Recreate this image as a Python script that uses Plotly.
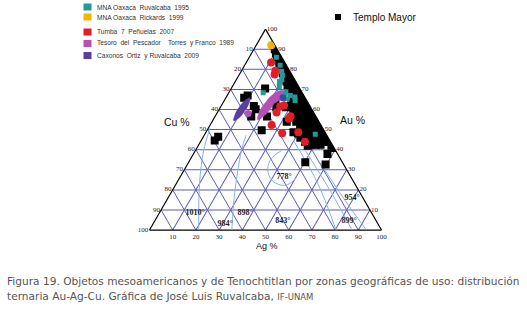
import plotly.graph_objects as go

# ---------------- data (Au %, Cu %; Ag % is the remainder, ternary sum = 100) ----------------
# Templo Mayor (black squares)
tm_au = [92,
         90, 90, 88, 88, 86, 86, 84, 84,
         82, 82, 82, 80, 80, 80, 78, 78, 78, 76, 76, 76,
         74, 74, 74, 72, 72, 72, 70, 70, 70, 68, 68, 68, 66, 66, 66,
         64, 64, 64, 64,
         62, 62, 62, 62, 62, 60, 60, 60, 60, 60, 58, 58, 58, 58, 58,
         56, 56, 56, 56, 56, 54, 54, 54, 54, 54,
         52, 52, 52, 52, 52, 52, 50, 50, 50, 50, 50, 50,
         48, 48, 48, 48, 48, 48, 48, 46, 46, 46, 46, 46, 46, 46,
         44, 44, 44, 44, 44, 44, 42.5, 42.5, 42.5,
         67, 65.8, 70.5, 61.7, 60.1, 56.5, 49.7, 56.5, 64.2, 61.1, 61.1,
         53.9, 48.7, 53.9, 44.6, 46.4, 42, 42, 40.9, 37.8, 33.7, 32.6]
tm_cu = [0,
         0, 1, 0, 1.5, 0, 2, 0, 2,
         0, 2, 3, 0, 1.5, 3, 0, 2, 3.5, 0, 2, 4,
         0, 2, 4, 0, 2, 4.5, 0, 2, 4.5, 0, 2, 4, 0, 2, 4,
         0, 2, 4, 6,
         0, 2, 4, 6, 8, 0, 2, 4, 6, 8, 0, 2, 4, 6, 8,
         0, 2, 4, 6, 8, 0, 2, 4, 6, 8,
         0, 2, 4, 6, 8, 9, 0, 2, 4, 6, 8, 10,
         0, 2, 4, 6, 8, 10, 12, 0, 2, 4, 6, 8, 10, 12,
         1, 3, 5, 7, 9, 11, 5, 7, 9,
         24.2, 26.3, 14.9, 24.2, 24.2, 27.9, 26.8, 21.1, 13.6, 14.8, 10.7,
         13.9, 13.6, 9.8, 49.6, 47.2, 10.8, 0.6, 0, 4.4, 16, 7.8]

# MNA Oaxaca Ruvalcaba 1995 (teal)
mna95_au = [86, 82, 79, 77, 75, 74, 71.5, 68.8, 68, 67, 66.2, 65.3, 64.5, 68.4, 47.7]
mna95_cu = [2.3, 2.7, 3.6, 4.2, 5.5, 7, 8.3, 6.8, 7.5, 5.8, 4.2, 8.2, 5, 16.8, 4.7]

# MNA Oaxaca Rickards 1999 (orange)
mna99_au = [92]
mna99_cu = [1.5]

# Tumba 7 Peñuelas 2007 (red)
tumba_au = [83.4, 79.3, 77.4, 62, 61.5, 58.5, 55.4, 56.6, 52.3, 48.2, 48.7, 44]
tumba_cu = [5.9, 6.1, 7.4, 11, 12.9, 16, 12.3, 10.9, 21.2, 18.7, 11.5, 11]

# Tesoro del Pescador (magenta): two composition fields + one analysis
tesoro1_au = [54.9, 57.3, 60.6, 64.3, 68.9, 66.5, 63.2, 59.5, 54.9]
tesoro1_cu = [26.0, 21.5, 17.4, 13.5, 10.0, 14.6, 18.6, 22.6, 26.0]
tesoro2_au = [63.2, 63.7, 65.0, 66.8, 69.4, 69.0, 67.6, 65.9, 63.2]
tesoro2_cu = [15.7, 13.4, 11.4, 9.4, 7.7, 10.1, 12.1, 14.1, 15.7]
tesoro_pt_au = [58.0]
tesoro_pt_cu = [28.5]

# Caxonos Ortiz y Ruvalcaba 2009 (purple): composition field + one analysis
caxonos_au = [54.4, 56.3, 59.0, 62.0, 65.8, 63.9, 61.2, 58.2, 54.4]
caxonos_cu = [36.5, 32.8, 29.6, 26.5, 23.8, 27.5, 30.7, 33.8, 36.5]
caxonos_pt_au = [65.8]
caxonos_pt_cu = [9.6]

# liquidus isotherms (light blue curves)
iso_au = [[50.8, 39.4, 23.8, 0],
          [47.2, 39.4, 18.7, 0],
          [39.4, 35.8, 30.1, 24.4, 22.3, 25.9],
          [44.6, 23.8, 0],
          [39.4, 18.7, 0],
          [34.2, 14.5, 0]]
iso_cu = [[48.5, 57.0, 66.5, 78.8],
          [34.8, 40.7, 53.9, 64.5],
          [23.6, 29.5, 34.0, 34.8, 30.1, 23.8],
          [15.7, 15.8, 19.6],
          [13.0, 12.3, 12.7],
          [9.8, 8.3, 6.5]]

# temperature labels
temp_text = ["778°", "954°", "1010°", "984°", "898°", "843°", "899°"]
temp_au = [26.4, 16.1, 8.3, 2.8, 8.3, 4.3, 4.3]
temp_cu = [28.8, 4.6, 76.2, 66.0, 54.6, 40.4, 11.8]

# tick values and labels
tick_vals = [0, 10, 20, 30, 40, 50, 60, 70, 80, 90]
cu_tick_labels = ["100", "90", "80", "70", "60", "50", "40", "30", "20", "10"]
ag_tick_labels = ["100", "90", "80", "70", "60", "50", "40", "30", "20", "10"]
au_tick_labels = ["100", "90", "80", "70", "60", "50", "40", "30", "20", "10"]

legend_names = ["MNA Oaxaca  Ruvalcaba  1995", "MNA Oaxaca  Rickards  1999",
                "Tumba  7  Peñuelas  2007", "Tesoro  del  Pescador    Torres  y Franco  1989",
                "Caxonos  Ortiz  y Ruvalcaba  2009"]
legend_colors = ["#1f9b9b", "#f6b400", "#e31d26", "#b550b9", "#5a3f9e"]

W, H = 527, 312
GRID = "#5d5db2"
ISO = "#84b2e4"

fig = go.Figure()

for a_vals, b_vals in zip(iso_au, iso_cu):
    fig.add_trace(go.Scatterternary(a=a_vals, b=b_vals, mode="lines",
                                    line=dict(color=ISO, width=1, shape="spline"),
                                    showlegend=False, hoverinfo="skip"))

fig.add_trace(go.Scatterternary(a=temp_au, b=temp_cu, mode="text", text=temp_text,
                                textfont=dict(family="Liberation Serif", size=8, color="#222222",
                                              weight="bold"),
                                showlegend=False, hoverinfo="skip"))

fig.add_trace(go.Scatterternary(a=tm_au, b=tm_cu, mode="markers", name="Templo Mayor",
                                marker=dict(symbol="square", size=8, color="black"),
                                showlegend=False))

fig.add_trace(go.Scatterternary(a=mna95_au, b=mna95_cu, mode="markers", name=legend_names[0],
                                marker=dict(symbol="square", size=5, color=legend_colors[0]),
                                showlegend=False))

fig.add_trace(go.Scatterternary(a=tumba_au, b=tumba_cu, mode="markers", name=legend_names[2],
                                marker=dict(symbol="circle", size=8, color=legend_colors[2]),
                                showlegend=False))

for a_vals, b_vals in [(tesoro1_au, tesoro1_cu), (tesoro2_au, tesoro2_cu)]:
    fig.add_trace(go.Scatterternary(a=a_vals, b=b_vals, mode="lines", fill="toself",
                                    fillcolor=legend_colors[3], name=legend_names[3],
                                    line=dict(color=legend_colors[3], width=0.5, shape="spline"),
                                    showlegend=False))
fig.add_trace(go.Scatterternary(a=tesoro_pt_au, b=tesoro_pt_cu, mode="markers", name=legend_names[3],
                                marker=dict(symbol="circle", size=7, color=legend_colors[3]),
                                showlegend=False))

fig.add_trace(go.Scatterternary(a=caxonos_au, b=caxonos_cu, mode="lines", fill="toself",
                                fillcolor=legend_colors[4], name=legend_names[4],
                                line=dict(color=legend_colors[4], width=0.5, shape="spline"),
                                showlegend=False))
fig.add_trace(go.Scatterternary(a=caxonos_pt_au, b=caxonos_pt_cu, mode="markers", name=legend_names[4],
                                marker=dict(symbol="circle", size=7, color="#34509f"),
                                showlegend=False))

fig.add_trace(go.Scatterternary(a=mna99_au, b=mna99_cu, mode="markers", name=legend_names[1],
                                marker=dict(symbol="circle", size=8, color=legend_colors[1]),
                                showlegend=False))


def axis(ticktext):
    return dict(title=dict(text=""), tickmode="array", tickvals=tick_vals, ticktext=ticktext,
                ticks="", showline=True, linecolor="black", linewidth=1.2,
                showgrid=True, gridcolor=GRID, gridwidth=0.8,
                tickfont=dict(family="Liberation Serif", size=7, color="#222222"),
                min=0, layer="below traces")


def px(x):
    return x / W


def py(y):
    return 1 - y / H


shapes = []
annotations = []
leg_y = [7, 17, 32, 43.5, 55.5]
for name, col, yc in zip(legend_names, legend_colors, leg_y):
    shapes.append(dict(type="rect", xref="paper", yref="paper", x0=px(83.5), x1=px(91.5),
                       y0=py(yc + 3.5), y1=py(yc - 3.5), fillcolor=col, line=dict(width=0)))
    annotations.append(dict(text=name, xref="paper", yref="paper", x=px(95), y=py(yc),
                            xanchor="left", yanchor="middle", showarrow=False,
                            font=dict(family="Liberation Sans", size=6.6, color="#333333")))

shapes.append(dict(type="rect", xref="paper", yref="paper", x0=px(335), x1=px(341),
                   y0=py(20), y1=py(14), fillcolor="black", line=dict(width=0)))
annotations.append(dict(text="Templo Mayor", xref="paper", yref="paper", x=px(351), y=py(17),
                        xanchor="left", yanchor="middle", showarrow=False,
                        font=dict(family="Liberation Sans", size=10, color="#111111")))

for txt, x, y, s in [("Cu %", 177, 122, 10.5), ("Au %", 352, 120, 10.5), ("Ag %", 267, 246, 9)]:
    annotations.append(dict(text=txt, xref="paper", yref="paper", x=px(x), y=py(y),
                            xanchor="center", yanchor="middle", showarrow=False,
                            font=dict(family="Liberation Sans", size=s, color="#111111")))

caption1 = "Figura 19. Objetos mesoamericanos y de Tenochtitlan por zonas geográficas de uso: distribución"
caption2 = ("ternaria Au-Ag-Cu. Gráfica de José Luis Ruvalcaba, "
            "<span style='font-size:8.5px'>IF-UNAM</span>")
for txt, y in [(caption1, 280.5), (caption2, 295.5)]:
    annotations.append(dict(text=txt, xref="paper", yref="paper", x=px(5), y=py(y),
                            xanchor="left", yanchor="middle", showarrow=False,
                            font=dict(family="DejaVu Sans", size=10.6, color="#555555")))

fig.update_layout(
    width=W, height=H, autosize=False,
    margin=dict(l=0, r=0, t=0, b=0),
    paper_bgcolor="white",
    ternary=dict(sum=100, bgcolor="white",
                 domain=dict(x=[0.2837, 0.7239], y=[0.2586, 0.9106]),
                 aaxis=axis(cu_tick_labels),
                 baxis=axis(ag_tick_labels),
                 caxis=axis(au_tick_labels)),
    shapes=shapes,
    annotations=annotations,
    showlegend=False,
)

fig.write_html("out.html", config={"displayModeBar": False},
               post_script="document.body.style.margin='0';")
